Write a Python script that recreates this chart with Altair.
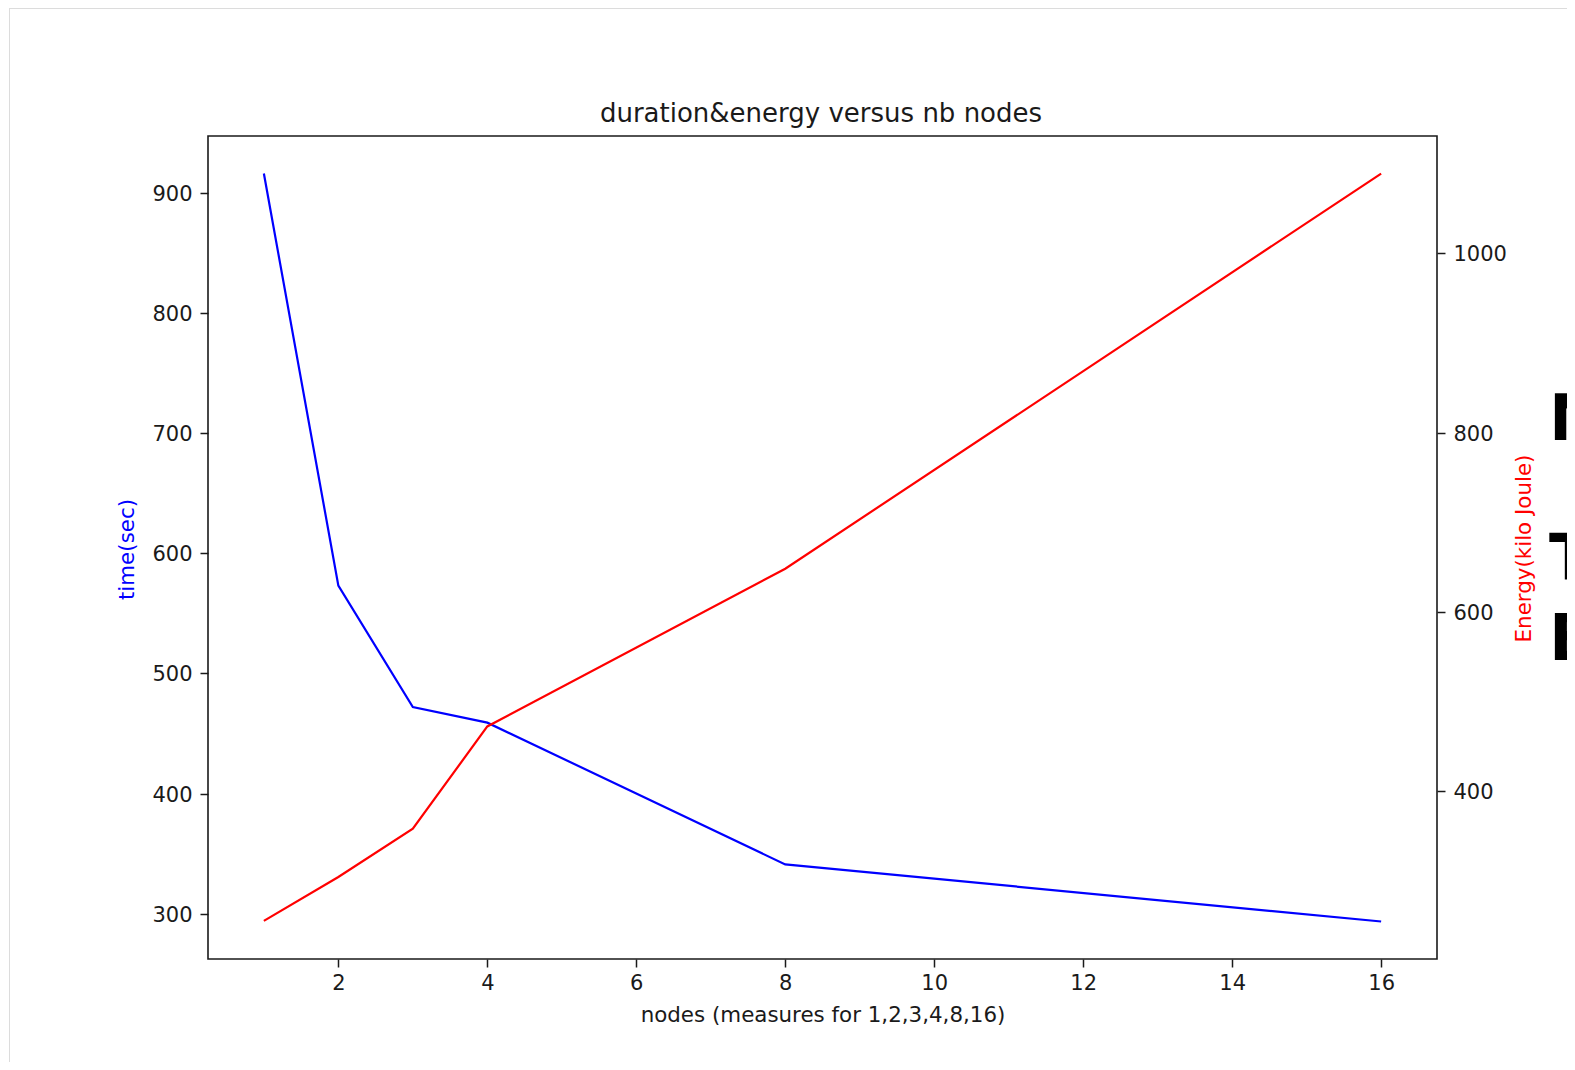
import altair as alt
import pandas as pd

# ---- data ----
nodes = [1, 2, 3, 4, 8, 16]
time_sec = [916, 573, 472, 459, 341, 293.5]
energy_kj = [255, 304, 358, 472, 648, 1089]

x_ticks = [2, 4, 6, 8, 10, 12, 14, 16]
time_ticks = [300, 400, 500, 600, 700, 800, 900]
energy_ticks = [400, 600, 800, 1000]

chart_title = ["duration&energy versus nb nodes"]
side_letters = ["N", "T", "E"]

df = pd.DataFrame({"nodes": nodes, "time": time_sec, "energy": energy_kj})

FONT = "DejaVu Sans"
INK = "#1a1a1a"
TICK_FS = 21
TITLE_FS = 21.4

# ---- layout ----
PAD_L, PAD_T = 200, 128
W, H = 1229, 823
SVG_W, SVG_H = 1559, 1054

x_enc = alt.X(
    "nodes:Q",
    scale=alt.Scale(domain=[0.25, 16.75], nice=False, zero=False),
    axis=alt.Axis(
        values=x_ticks, title="nodes (measures for 1,2,3,4,8,16)", format="d",
        grid=False, domain=False, tickSize=8, tickWidth=1.5, tickColor=INK,
        labelFont=FONT, labelFontSize=TICK_FS, labelColor=INK, labelPadding=5,
        titleFont=FONT, titleFontSize=TITLE_FS, titleFontWeight="normal", titleColor=INK,
        titleBaseline="alphabetic", titleY=62, titleAnchor="middle",
    ),
)

blue = alt.Chart(df).mark_line(color="blue", strokeWidth=2.2).encode(
    x=x_enc,
    y=alt.Y(
        "time:Q",
        scale=alt.Scale(domain=[262.3, 947.2], nice=False, zero=False),
        axis=alt.Axis(
            orient="left", values=time_ticks, title="time(sec)", format="d",
            grid=False, domain=False, tickSize=8, tickWidth=1.5, tickColor=INK,
            labelFont=FONT, labelFontSize=TICK_FS, labelColor=INK, labelPadding=8,
            labelOffset=1.5,
            titleFont=FONT, titleFontSize=TITLE_FS, titleFontWeight="normal",
            titleColor="blue", titleAngle=270, titleAlign="center",
            titleBaseline="middle", titleX=-80.5, titleY=413,
        ),
    ),
)

red = alt.Chart(df).mark_line(color="red", strokeWidth=2.2).encode(
    x=x_enc,
    y=alt.Y(
        "energy:Q",
        scale=alt.Scale(domain=[212.5, 1130.9], nice=False, zero=False),
        axis=alt.Axis(
            orient="right", values=energy_ticks, title="Energy(kilo Joule)", format="d",
            grid=False, domain=False, tickSize=8, tickWidth=1.5, tickColor=INK,
            labelFont=FONT, labelFontSize=TICK_FS, labelColor=INK, labelPadding=8,
            labelOffset=1.5,
            titleFont=FONT, titleFontSize=TITLE_FS, titleFontWeight="normal",
            titleColor="red", titleAngle=270, titleAlign="center",
            titleBaseline="middle", titleX=87, titleY=412,
        ),
    ),
)

title_mark = alt.Chart(pd.DataFrame({"t": chart_title})).mark_text(
    font=FONT, fontSize=26, color=INK, align="center", baseline="alphabetic",
).encode(text="t:N", x=alt.value(613), y=alt.value(-14.5))

# cut-off bold letters at the right edge of the screenshot
letter_y = {"N": 304, "T": 444, "E": 524}
letters = [
    alt.Chart(pd.DataFrame({"t": [s]})).mark_text(
        font="DejaVu Sans", fontSize=64, fontWeight="bold", color="black",
        align="left", baseline="alphabetic",
    ).encode(text="t:N", x=alt.value(1341), y=alt.value(letter_y[s]))
    for s in side_letters
]

# faint screenshot frame (top and left edges)
frame_src = pd.DataFrame({"k": [0]})
frame_left = alt.Chart(frame_src).mark_rule(color="#dcdcdc", strokeWidth=1).encode(
    x=alt.value(-198.5), y=alt.value(-128), y2=alt.value(926)
)
frame_top = alt.Chart(frame_src).mark_rule(color="#dcdcdc", strokeWidth=1).encode(
    x=alt.value(-199), x2=alt.value(1359), y=alt.value(-127.5)
)

chart = (
    alt.layer(blue, red, title_mark, *letters, frame_left, frame_top)
    .resolve_scale(y="independent")
    .properties(
        width=W, height=H,
        autosize=alt.AutoSizeParams(type="none"),
        padding={"left": PAD_L, "top": PAD_T,
                 "right": SVG_W - PAD_L - W, "bottom": SVG_H - PAD_T - H},
    )
    .configure(background="white")
    .configure_view(stroke=INK, strokeWidth=1.6)
)

chart.save("out.html", embed_options={"renderer": "svg", "actions": False})
